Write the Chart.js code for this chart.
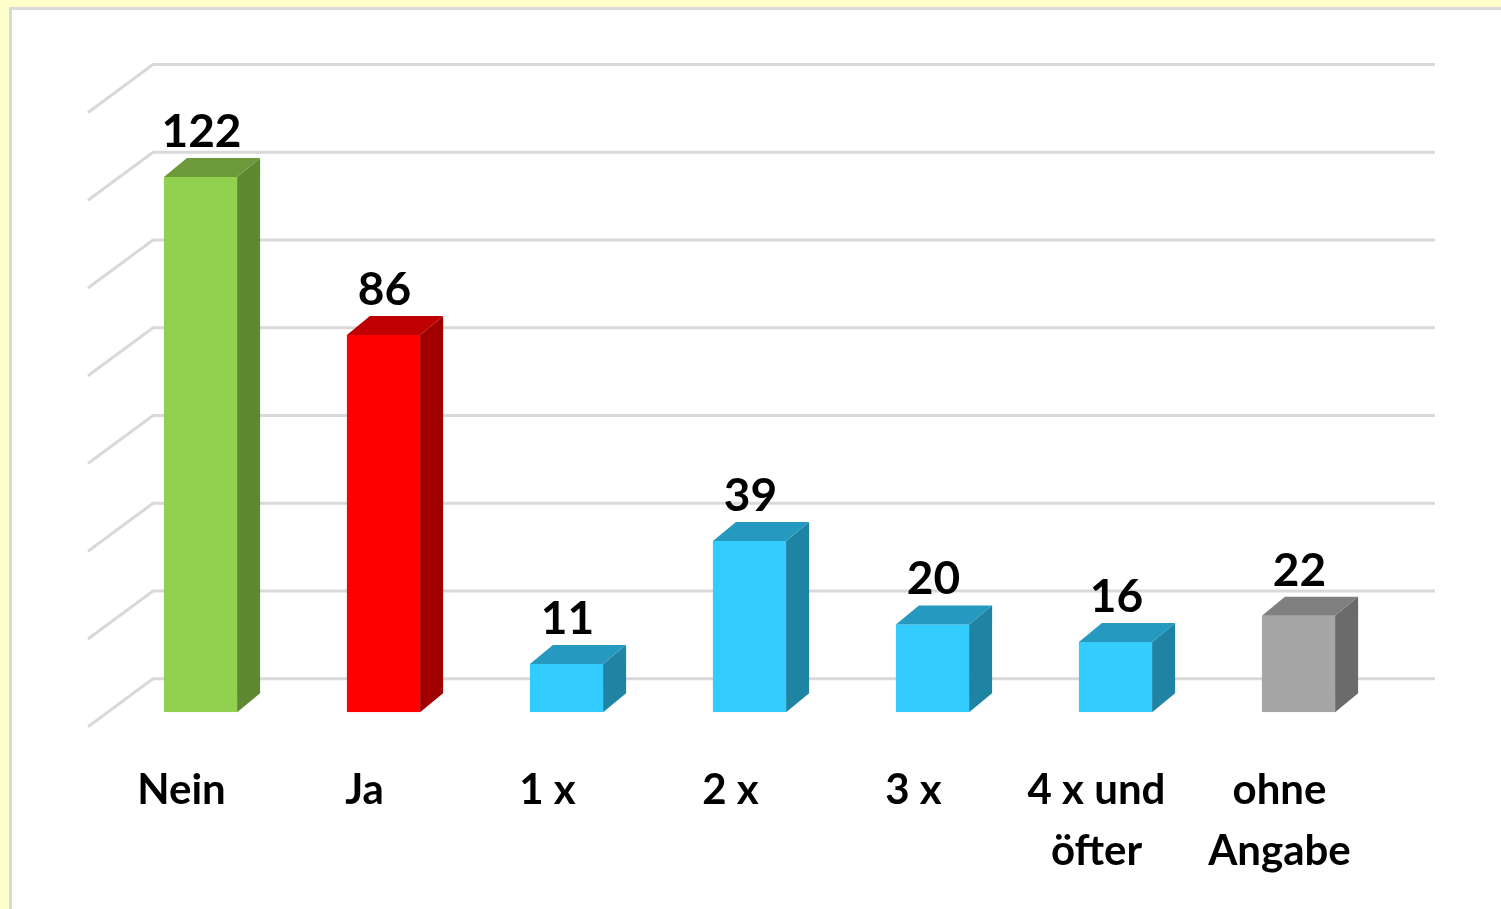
<!DOCTYPE html>
<html><head><meta charset="utf-8">
<script src="https://cdn.jsdelivr.net/npm/chart.js@4"></script>
<style>
html,body{margin:0;padding:0;background:#FFFFCC;width:1501px;height:909px;overflow:hidden}
#panel{position:absolute;left:9px;top:7px;right:-10px;bottom:-10px;background:#fff;border-left:3px solid #D9D9D9;border-top:3px solid #D9D9D9}
#wrap{position:absolute;left:0;top:0;width:1501px;height:909px}
</style></head><body>
<div id="panel"></div>
<div id="wrap"><canvas id="c"></canvas></div>
<script>
// ---- data ----
const categories = ["Nein", "Ja", "1 x", "2 x", "3 x", ["4 x und", "öfter"], ["ohne", "Angabe"]];
const values = [122, 86, 11, 39, 20, 16, 22];
const yTicks = [0, 20, 40, 60, 80, 100, 120, 140];

// ---- styles ----
const frontColors = ["#92D050", "#FF0000", "#33CCFF", "#33CCFF", "#33CCFF", "#33CCFF", "#A6A6A6"];
const sideColors  = ["#5F8832", "#A00000", "#1F83A3", "#1F83A3", "#1F83A3", "#1F83A3", "#6B6B6B"];
const topColors   = ["#6C9A3A", "#C00000", "#2699C0", "#2699C0", "#2699C0", "#2699C0", "#808080"];
const DX = 23, DY = -19;       // bar depth
const WALL_DY = -33.5;         // back wall offset
const FONT = "Lato";

const depthPlugin = {
  id: "depth3d",
  beforeDatasetsDraw(chart) {
    const ctx = chart.ctx, y = chart.scales.y, ca = chart.chartArea;
    const left = ca.left + 44, right = ca.right + 45;
    ctx.save();
    ctx.strokeStyle = "#D9D9D9";
    ctx.lineWidth = 3;
    yTicks.forEach(v => {
      const yy = y.getPixelForValue(v) + WALL_DY;
      ctx.beginPath();
      ctx.moveTo(left - 65, yy + 48);
      ctx.lineTo(left, yy);
      ctx.lineTo(right, yy);
      ctx.stroke();
    });
    ctx.restore();
  },
  afterDatasetsDraw(chart) {
    const ctx = chart.ctx;
    const meta = chart.getDatasetMeta(0);
    ctx.save();
    meta.data.forEach((bar, i) => {
      const p = bar.getProps(["x", "y", "base", "width"], true);
      const x1 = p.x - p.width / 2, x2 = p.x + p.width / 2;
      const yt = p.y, yb = p.base;
      // side
      ctx.fillStyle = sideColors[i];
      ctx.beginPath();
      ctx.moveTo(x2, yt);
      ctx.lineTo(x2 + DX, yt + DY);
      ctx.lineTo(x2 + DX, yb + DY);
      ctx.lineTo(x2, yb);
      ctx.closePath();
      ctx.fill();
      // top
      ctx.fillStyle = topColors[i];
      ctx.beginPath();
      ctx.moveTo(x1, yt);
      ctx.lineTo(x1 + DX, yt + DY);
      ctx.lineTo(x2 + DX, yt + DY);
      ctx.lineTo(x2, yt);
      ctx.closePath();
      ctx.fill();
      // value label
      ctx.fillStyle = "#000";
      ctx.font = "bold 46px " + FONT;
      ctx.textAlign = "center";
      ctx.textBaseline = "alphabetic";
      ctx.fillText(String(values[i]), p.x + 1, yt - 30);
    });
    ctx.restore();
  }
};

new Chart(document.getElementById("c"), {
  type: "bar",
  data: {
    labels: categories,
    datasets: [{
      data: values,
      backgroundColor: frontColors,
      borderWidth: 0,
      barPercentage: 0.4,
      categoryPercentage: 1
    }]
  },
  options: {
    responsive: true,
    maintainAspectRatio: false,
    animation: false,
    layout: { padding: { left: 109, right: 111, top: 98, bottom: -21 } },
    plugins: { legend: { display: false }, tooltip: { enabled: false } },
    scales: {
      x: {
        grid: { display: false, drawTicks: false },
        border: { display: false },
        ticks: {
          color: "#000",
          padding: 48,
          labelOffset: -19,
          maxRotation: 0,
          autoSkip: false,
          font: { family: FONT, size: 42, weight: "bold", lineHeight: 1.45 }
        }
      },
      y: {
        display: false,
        min: 0,
        max: 140,
        ticks: { stepSize: 20 }
      }
    }
  },
  plugins: [depthPlugin]
});
</script>
</body></html>
